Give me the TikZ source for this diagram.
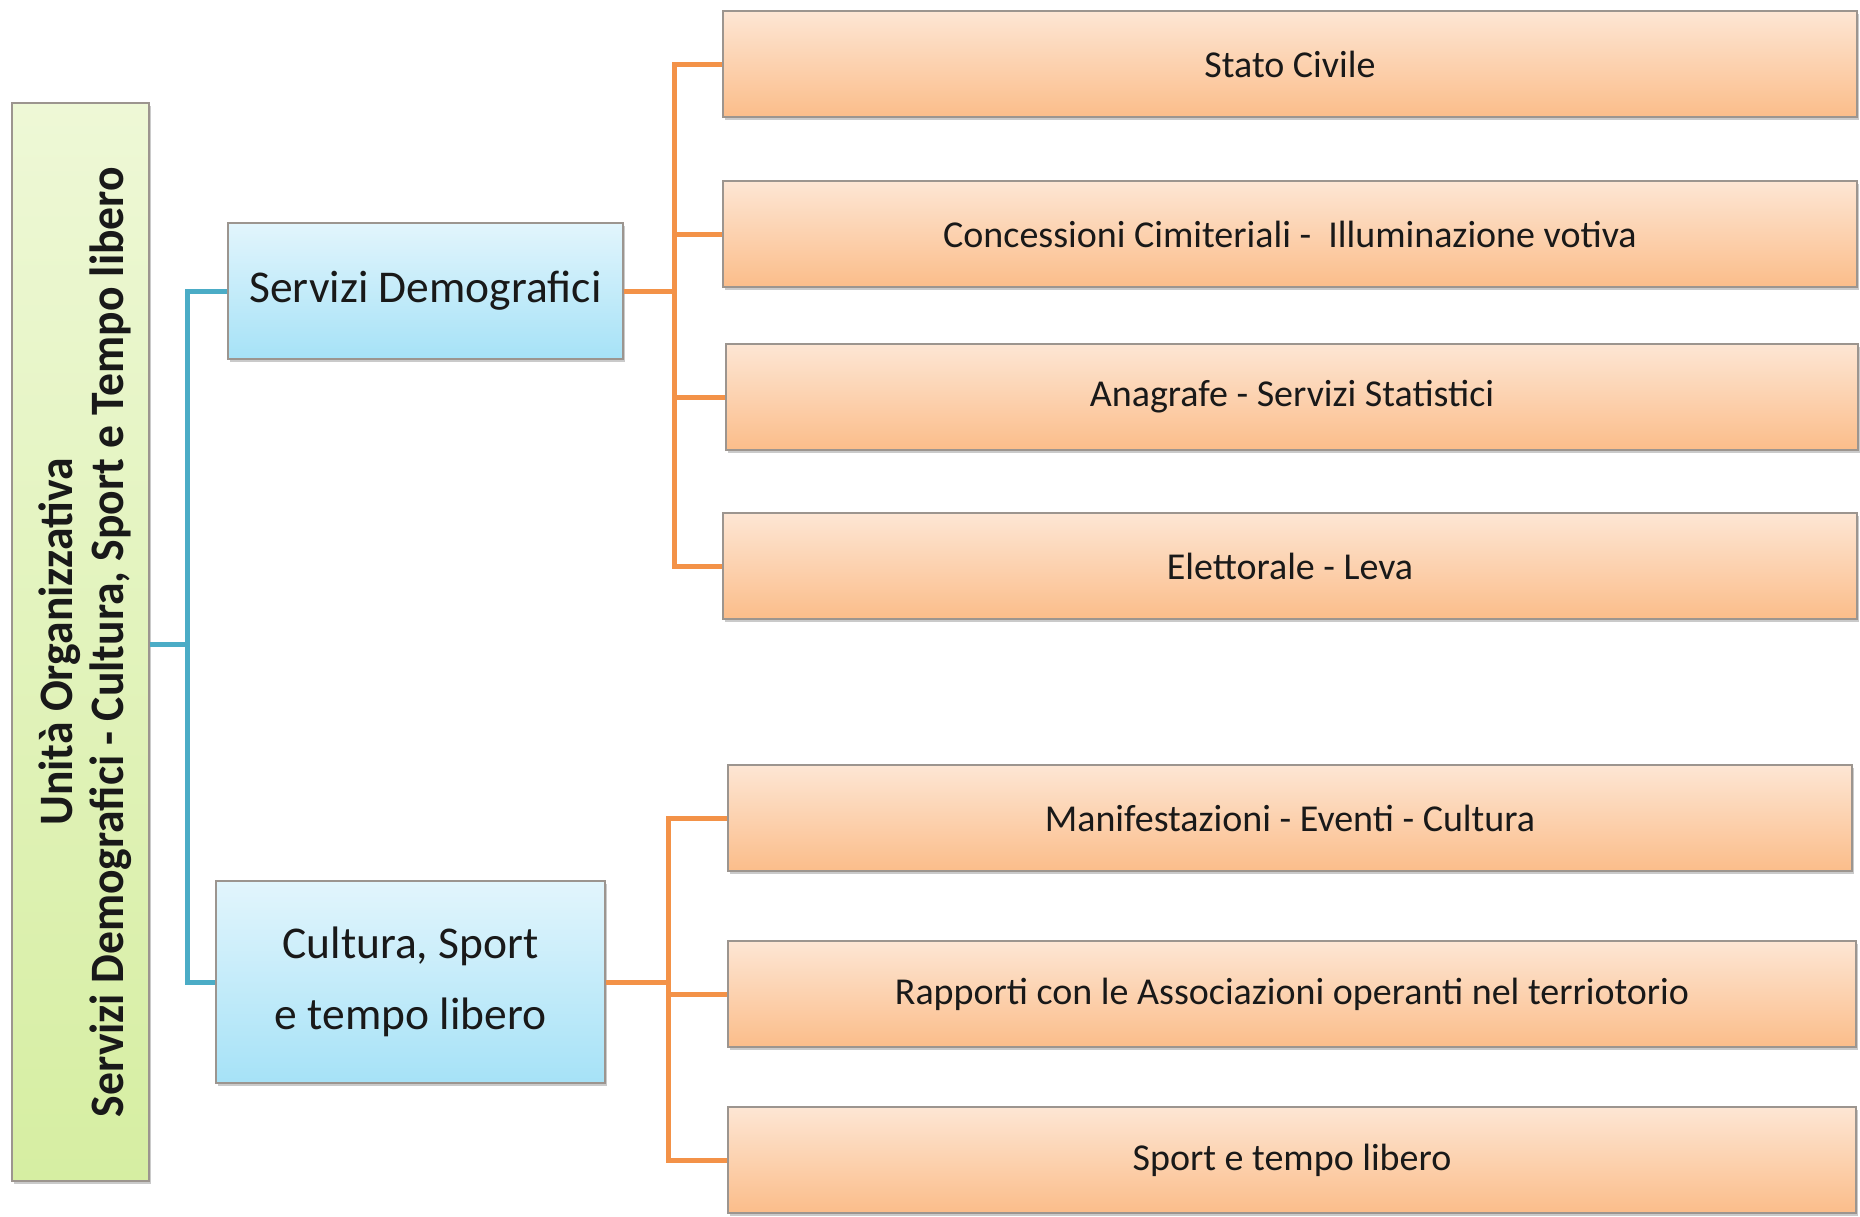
\documentclass[tikz,border=0pt]{standalone}
\usepackage{fontspec}
\usepackage{graphicx}
\setmainfont{Carlito}
\usetikzlibrary{shadows}
\definecolor{oTop}{HTML}{FDE6D4}
\definecolor{oBot}{HTML}{FBBD8A}
\definecolor{bTop}{HTML}{E2F5FC}
\definecolor{bBot}{HTML}{A6E2F7}
\definecolor{gTop}{HTML}{EEF8D6}
\definecolor{gBot}{HTML}{D6EEA2}
\definecolor{blueLine}{HTML}{4BACC6}
\definecolor{orangeLine}{HTML}{F39248}
\definecolor{boxEdge}{HTML}{9C958F}
\newcommand{\cond}[1]{\scalebox{0.95}[1]{#1}}
\tikzset{
  basebox/.style={rectangle, inner sep=0pt, draw=boxEdge, line width=1.5pt,
    drop shadow={shadow xshift=1.5pt, shadow yshift=-3pt, opacity=0.35, fill=black!60},
    align=center, text=black!90},
  orangebox/.style={basebox, top color=oTop, bottom color=oBot,
    minimum height=106pt, font=\fontsize{38}{45}\selectfont},
  bluebox/.style={basebox, top color=bTop, bottom color=bBot,
    font=\fontsize{45.5}{71}\selectfont},
  rootbox/.style={basebox, top color=gTop, bottom color=gBot},
  roottext/.style={rotate=90, align=center, inner sep=0pt,
    font=\bfseries\fontsize{48}{51}\selectfont, text=black!90},
  blueconn/.style={draw=blueLine, line width=5pt},
  orangeconn/.style={draw=orangeLine, line width=5pt}
}
\begin{document}
\begin{tikzpicture}[x=1pt,y=-1pt]
\useasboundingbox (0,0) rectangle (1860,1216);
% root
\node[rootbox, minimum width=137pt, minimum height=1078pt] (root) at (80.5,642) {};
\node[roottext] (roott) at (85,642) {\cond{Unità Organizzativa}\\\cond{Servizi Demografici - Cultura, Sport e Tempo libero}};
% second level
\node[bluebox, minimum width=395pt, minimum height=136pt] (sd) at (425.5,291) {Servizi Demografici};
\node[bluebox, minimum width=389pt, minimum height=202pt] (cs) at (410.5,982) {Cultura, Sport\\e tempo libero};
% leaves
\node[orangebox, minimum width=1134pt] (o1) at (1290,64) {Stato Civile};
\node[orangebox, minimum width=1134pt] (o2) at (1290,234) {Concessioni Cimiteriali -\ \ Illuminazione votiva};
\node[orangebox, minimum width=1132pt] (o3) at (1292,397) {Anagrafe - Servizi Statistici};
\node[orangebox, minimum width=1134pt] (o4) at (1290,566) {Elettorale - Leva};
\node[orangebox, minimum width=1124pt] (o5) at (1290,818) {Manifestazioni - Eventi - Cultura};
\node[orangebox, minimum width=1128pt] (o6) at (1292,994) {Rapporti con le Associazioni operanti nel terriotorio};
\node[orangebox, minimum width=1128pt] (o7) at (1292,1160) {Sport e tempo libero};
% junctions
\coordinate (bj) at (187,644);
\coordinate (oj1) at (674,291);
\coordinate (oj2) at (668,982);
% connectors
\draw[blueconn] (root.east |- bj) -- (bj);
\draw[blueconn] (sd.west) -| (bj);
\draw[blueconn] (cs.west) -| (bj);
\draw[orangeconn] (sd.east) -- (oj1);
\foreach \n in {o1,o2,o3,o4} \draw[orangeconn] (\n.west) -| (oj1);
\draw[orangeconn] (cs.east) -- (oj2);
\foreach \n in {o5,o6,o7} \draw[orangeconn] (\n.west) -| (oj2);
\end{tikzpicture}
\end{document}
